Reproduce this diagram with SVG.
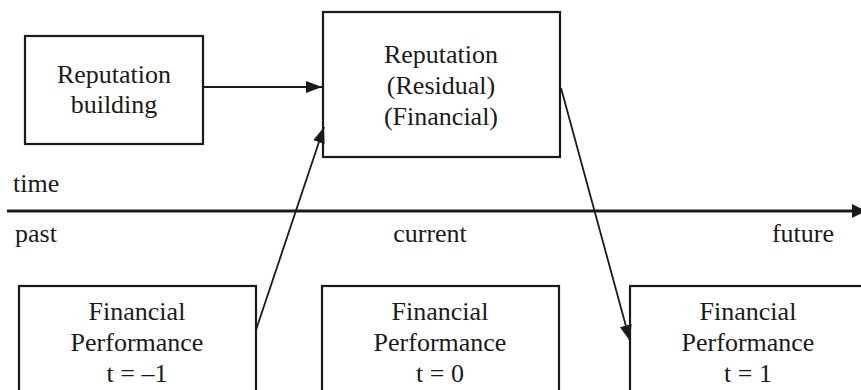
<svg xmlns="http://www.w3.org/2000/svg" width="861" height="390" viewBox="0 0 861 390">
<defs>
<marker id="ah" viewBox="0 0 16 12" refX="16" refY="6" markerWidth="16" markerHeight="12" markerUnits="userSpaceOnUse" orient="auto">
<path d="M0,0 L16,6 L0,12 Z" fill="#1a1a1a"/>
</marker>
</defs>
<rect width="861" height="390" fill="#fff"/>
<g id="node-rep-building">
<rect x="25" y="36" width="178" height="108" fill="#fff" stroke="#1a1a1a" stroke-width="2.2"/>
<text x="114" y="83" font-family="Liberation Serif" font-size="26" text-anchor="middle" fill="#1a1a1a">Reputation</text>
<text x="114" y="113" font-family="Liberation Serif" font-size="26" text-anchor="middle" fill="#1a1a1a">building</text>
</g>
<g id="node-reputation">
<rect x="323" y="12" width="237" height="145" fill="#fff" stroke="#1a1a1a" stroke-width="2.2"/>
<text x="441" y="63" font-family="Liberation Serif" font-size="26" text-anchor="middle" fill="#1a1a1a">Reputation</text>
<text x="441" y="94" font-family="Liberation Serif" font-size="26" text-anchor="middle" fill="#1a1a1a">(Residual)</text>
<text x="441" y="125" font-family="Liberation Serif" font-size="26" text-anchor="middle" fill="#1a1a1a">(Financial)</text>
</g>
<g id="timeline">
<line x1="7" y1="211" x2="855" y2="211" stroke="#1a1a1a" stroke-width="3.2"/>
<path d="M852,204 L866,211 L852,218 Z" fill="#1a1a1a"/>
<text x="13" y="192" font-family="Liberation Serif" font-size="26" fill="#1a1a1a">time</text>
<text x="15" y="242" font-family="Liberation Serif" font-size="26" fill="#1a1a1a">past</text>
<text x="430" y="242" font-family="Liberation Serif" font-size="26" text-anchor="middle" fill="#1a1a1a">current</text>
<text x="803" y="242" font-family="Liberation Serif" font-size="26" text-anchor="middle" fill="#1a1a1a">future</text>
</g>
<g id="node-fp-minus1">
<rect x="19" y="286" width="237" height="120" fill="#fff" stroke="#1a1a1a" stroke-width="2.2"/>
<text x="137" y="320" font-family="Liberation Serif" font-size="26" text-anchor="middle" fill="#1a1a1a">Financial</text>
<text x="137" y="351" font-family="Liberation Serif" font-size="26" text-anchor="middle" fill="#1a1a1a">Performance</text>
<text x="137" y="382" font-family="Liberation Serif" font-size="26" text-anchor="middle" fill="#1a1a1a">t = –1</text>
</g>
<g id="node-fp-0">
<rect x="322" y="286" width="237" height="120" fill="#fff" stroke="#1a1a1a" stroke-width="2.2"/>
<text x="440" y="320" font-family="Liberation Serif" font-size="26" text-anchor="middle" fill="#1a1a1a">Financial</text>
<text x="440" y="351" font-family="Liberation Serif" font-size="26" text-anchor="middle" fill="#1a1a1a">Performance</text>
<text x="440" y="382" font-family="Liberation Serif" font-size="26" text-anchor="middle" fill="#1a1a1a">t = 0</text>
</g>
<g id="node-fp-1">
<rect x="630" y="286" width="237" height="120" fill="#fff" stroke="#1a1a1a" stroke-width="2.2"/>
<text x="748" y="320" font-family="Liberation Serif" font-size="26" text-anchor="middle" fill="#1a1a1a">Financial</text>
<text x="748" y="351" font-family="Liberation Serif" font-size="26" text-anchor="middle" fill="#1a1a1a">Performance</text>
<text x="748" y="382" font-family="Liberation Serif" font-size="26" text-anchor="middle" fill="#1a1a1a">t = 1</text>
</g>
<g id="connectors" stroke="#1a1a1a" stroke-width="1.8" fill="none">
<line x1="203" y1="87" x2="322" y2="87" marker-end="url(#ah)"/>
<line x1="256" y1="330" x2="324" y2="127" marker-end="url(#ah)"/>
<line x1="561" y1="88" x2="630" y2="341" marker-end="url(#ah)"/>
</g>
</svg>
